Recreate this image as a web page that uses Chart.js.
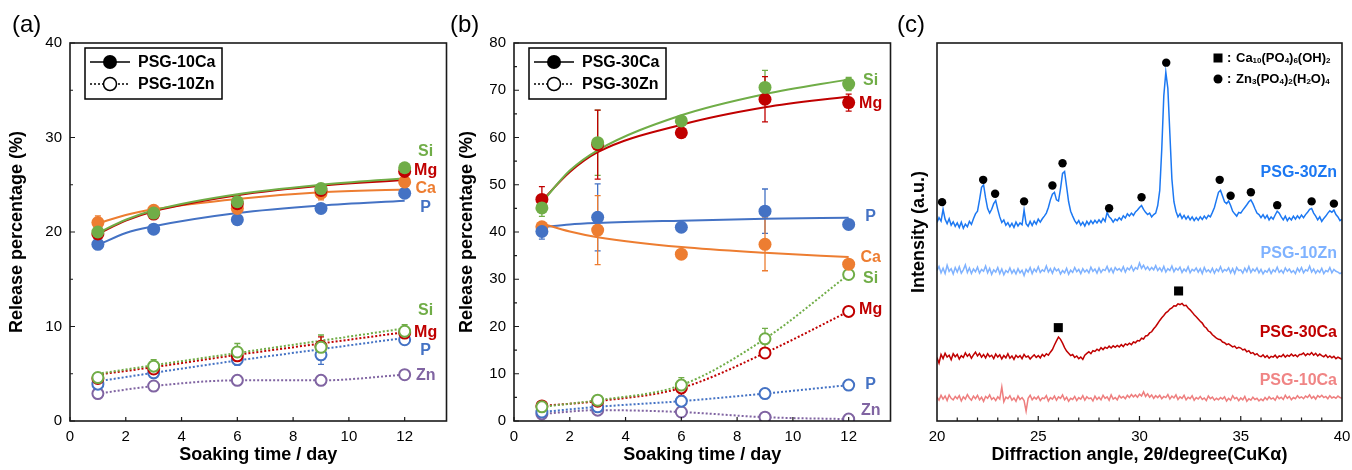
<!DOCTYPE html>
<html>
<head>
<meta charset="utf-8">
<script src="https://cdn.jsdelivr.net/npm/chart.js@4.4.0/dist/chart.umd.min.js"></script>
<style>
  body { margin: 0; background: #fff; width: 1352px; height: 470px; overflow: hidden; position: relative; }
  canvas { position: absolute; top: 0; }
</style>
</head>
<body>
<canvas id="grafA" width="454" height="470" style="left:0"></canvas>
<canvas id="grafB" width="448" height="470" style="left:450px"></canvas>
<canvas id="grafC" width="462" height="470" style="left:890px"></canvas>
<script>
const fuente = "'Liberation Sans', Arial, sans-serif";
Chart.defaults.font.family = fuente;
Chart.defaults.color = '#000';
Chart.defaults.animation = false;

const cSi = '#70AD47', cMg = '#C00000', cCa = '#ED7D31', cP = '#4472C4', cZn = '#8064A2';

// dias de inmersion
const dias = [1, 3, 6, 9, 12];
const diasAjuste = [1, 2, 3, 6, 9, 12];
const ticksDias = [0, 2, 4, 6, 8, 10, 12];

// (a) PSG-10Ca  (puntos llenos + curva de ajuste)
const si10Ca = [20.0, 22.0, 23.2, 24.6, 26.8];
const mg10Ca = [19.8, 21.9, 23.0, 24.4, 26.4];
const ca10Ca = [21.0, 22.3, 22.5, 24.1, 25.3];
const p10Ca  = [18.7, 20.3, 21.3, 22.5, 24.1];
const errSi10Ca = [0.3, 0.4, 0.6, 0.5, 0.4];
const errMg10Ca = [0.3, 0.4, 0.5, 0.5, 0.4];
const errCa10Ca = [0.7, 0.3, 0.5, 0.7, 0.4];
const errP10Ca  = [0.3, 0.3, 0.4, 0.3, 0.3];
const siAj10Ca = [19.9, 21.3, 22.3, 24.0, 25.0, 25.7];
const mgAj10Ca = [19.8, 21.2, 22.2, 23.9, 24.9, 25.5];
const caAj10Ca = [20.9, 21.8, 22.4, 23.5, 24.2, 24.5];
const pAj10Ca  = [18.6, 19.9, 20.6, 22.0, 22.8, 23.3];

// (a) PSG-10Zn (puntos vacios + linea punteada)
const si10Zn = [4.6, 5.8, 7.3, 7.8, 9.5];
const mg10Zn = [4.5, 5.5, 6.9, 7.9, 9.3];
const p10Zn  = [3.9, 5.1, 6.5, 7.0, 8.6];
const zn10Zn = [2.9, 3.7, 4.3, 4.3, 4.9];
const errSi10Zn = [0.4, 0.7, 0.9, 1.3, 0.7];
const errMg10Zn = [0.3, 0.5, 0.6, 1.0, 0.5];
const errP10Zn  = [0.3, 0.4, 0.6, 1.0, 0.4];
const errZn10Zn = [0.2, 0.3, 0.2, 0.2, 0.2];
const siAj10Zn = [5.0, 5.9, 7.2, 8.5, 9.8];
const mgAj10Zn = [4.9, 5.7, 7.0, 8.2, 9.4];
const pAj10Zn  = [4.2, 5.1, 6.4, 7.6, 8.8];

// (b) PSG-30Ca
const si30Ca = [45.1, 58.9, 63.5, 70.6, 71.3];
const mg30Ca = [46.9, 58.5, 61.0, 68.1, 67.4];
const ca30Ca = [41.1, 40.4, 35.3, 37.4, 33.2];
const p30Ca  = [40.1, 43.1, 41.0, 44.4, 41.6];
const errSi30Ca = [1.8, 6.9, 0.8, 3.6, 1.4];
const errMg30Ca = [2.7, 7.3, 0.6, 4.8, 1.8];
const errCa30Ca = [0.8, 7.3, 0.5, 5.6, 0.6];
const errP30Ca  = [1.6, 7.1, 0.5, 4.7, 0.8];
const siAj30Ca = [46.3, 53.0, 57.3, 64.7, 69.2, 72.3];
const mgAj30Ca = [46.6, 52.7, 56.9, 62.7, 66.4, 68.7];
const caAj30Ca = [41.8, 40.1, 38.9, 36.8, 35.6, 34.7];
const pAj30Ca  = [41.0, 41.6, 41.9, 42.4, 42.8, 43.0];

// (b) PSG-30Zn
const si30Zn = [3.0, 4.4, 7.6, 17.4, 31.0];
const mg30Zn = [3.2, 4.2, 7.0, 14.4, 23.2];
const p30Zn  = [1.9, 3.0, 4.2, 5.8, 7.6];
const zn30Zn = [1.5, 2.3, 1.9, 0.8, 0.4];
const errSi30Zn = [0.5, 0.4, 1.6, 2.2, 0.5];
const errMg30Zn = [0.4, 0.3, 1.6, 0.8, 0.4];
const errP30Zn  = [0.3, 0.3, 0.4, 0.3, 0.3];
const errZn30Zn = [0.2, 0.2, 0.2, 0.2, 0.2];

// (c) XRD, 20-40 grados cada 0.1
const xrdAngulo = Array.from({ length: 201 }, (_, i) => +(20 + i * 0.1).toFixed(1));
const xrd30Zn = [
  52.5,53.8,52.9,56.0,53.4,52.2,53.5,51.8,52.7,51.5,
  52.4,51.2,52.6,51.0,52.1,51.4,52.8,52.0,53.5,54.8,
  55.5,58.5,61.8,62.5,59.0,56.2,55.0,56.0,57.5,58.3,
  56.0,54.0,52.5,53.2,51.8,52.5,51.4,52.3,51.2,52.6,
  51.6,52.4,51.9,55.8,52.2,51.5,52.8,51.7,52.9,52.1,
  53.4,52.6,53.5,54.2,55.0,56.5,58.5,60.0,60.5,58.5,
  58.2,61.5,65.5,66.0,62.0,58.0,55.5,54.2,53.0,52.2,
  53.0,51.8,52.6,51.6,52.8,52.0,53.0,52.2,53.1,52.4,
  53.2,52.5,53.6,52.8,55.2,54.0,53.5,52.6,53.4,53.0,
  53.8,53.2,54.3,53.7,54.8,54.2,55.0,54.4,55.3,55.8,
  56.5,57.0,56.0,55.2,54.6,55.0,54.0,54.6,55.0,57.0,
  61.0,72.0,86.0,92.3,88.0,76.0,64.0,58.0,55.5,54.0,
  54.8,53.6,54.4,53.4,54.2,53.2,54.0,53.0,53.8,53.1,
  54.0,53.3,54.2,53.5,54.4,54.0,55.2,56.5,58.5,60.5,
  61.0,59.5,58.0,57.5,58.2,57.0,55.5,54.8,54.2,55.2,
  55.0,55.8,56.5,57.2,58.0,58.5,57.5,56.2,55.0,54.6,
  53.8,54.6,53.6,54.4,53.2,54.0,53.4,54.5,55.5,55.0,
  54.0,53.2,54.2,53.0,53.8,53.2,54.2,53.4,54.3,53.6,
  54.5,53.8,54.6,55.2,56.0,56.2,55.0,54.2,53.2,54.0,
  52.8,53.6,54.2,55.0,55.6,55.2,55.8,54.6,54.0,53.0,
  53.4
];
const xrd10Zn = [
  39.8,40.9,39.2,40.4,39.0,41.2,39.6,40.3,38.9,40.6,
  39.4,40.8,39.1,40.0,41.3,39.3,40.5,39.0,40.2,39.5,
  40.7,39.1,40.1,39.6,41.0,39.2,40.4,38.8,40.0,39.4,
  40.6,39.0,40.2,38.7,39.8,39.3,40.5,39.1,40.0,38.9,
  40.3,39.2,39.9,38.5,40.1,39.4,40.6,39.0,40.2,39.5,
  40.8,39.3,40.0,39.6,41.0,39.4,40.3,39.1,40.5,39.7,
  40.2,38.9,39.8,39.2,40.4,38.8,39.9,39.3,40.6,39.5,
  40.1,39.0,40.3,39.4,40.0,39.2,40.7,39.6,40.2,39.1,
  40.5,39.3,40.1,39.8,40.9,39.5,40.4,39.2,40.6,39.9,
  40.3,39.6,40.8,39.4,40.5,40.0,41.0,39.7,40.6,40.2,
  41.8,40.4,41.2,40.1,40.8,39.9,40.6,40.0,41.1,39.8,
  40.5,39.6,40.9,39.4,40.3,39.8,41.0,39.5,40.4,39.9,
  40.7,39.3,40.2,39.6,40.8,39.2,40.1,39.7,40.5,39.4,
  40.3,39.0,40.6,39.5,40.0,39.3,40.4,39.1,40.2,39.6,
  40.8,39.4,40.1,39.7,40.5,39.2,40.3,39.0,40.6,39.8,
  40.0,39.1,40.4,39.5,40.9,39.3,40.2,39.6,40.5,39.2,
  40.1,38.9,39.8,39.4,40.3,39.0,40.0,39.5,40.7,39.3,
  39.9,39.1,40.5,39.6,40.2,39.3,39.8,39.0,40.4,39.5,
  40.6,39.2,40.0,39.7,41.0,39.4,40.2,39.1,39.9,39.3,
  40.4,39.0,39.8,39.5,40.6,39.2,40.1,39.6,39.4,39.0,
  39.3
];
const xrd30Ca = [
  16.8,15.3,17.6,16.5,17.9,16.9,17.4,16.2,17.8,17.0,
  17.6,16.4,17.3,16.8,18.0,17.1,17.7,16.6,17.5,18.2,
  17.2,17.9,16.9,17.6,16.7,17.8,17.0,17.4,16.5,17.7,
  16.9,17.5,16.4,17.3,16.7,17.8,16.6,17.2,16.3,17.4,
  16.8,17.3,16.5,17.6,16.9,17.2,16.4,17.0,17.5,16.8,
  17.3,16.7,17.6,17.1,17.8,17.4,18.2,18.9,20.1,21.2,
  22.2,21.6,20.6,19.4,18.5,17.9,17.3,17.6,16.8,17.2,
  16.5,16.9,16.3,17.4,17.9,18.3,17.8,18.6,18.4,19.0,
  18.6,19.4,18.9,19.5,19.2,19.8,19.3,19.9,19.5,20.0,
  19.6,20.2,19.7,20.4,20.1,20.6,20.2,20.9,20.7,21.3,
  21.2,21.9,21.7,22.5,22.6,23.3,23.6,24.4,25.0,25.8,
  26.6,27.3,27.9,28.6,29.0,29.6,29.9,30.5,30.4,31.0,
  30.8,31.1,30.5,30.6,29.9,29.4,28.8,28.1,27.6,27.0,
  26.4,25.9,25.0,24.6,23.8,23.5,22.8,22.4,21.9,21.6,
  21.5,20.9,20.7,20.2,20.4,20.0,19.6,19.8,19.2,19.5,
  19.3,18.8,19.0,18.3,18.6,17.9,18.1,17.5,17.8,17.2,
  17.0,17.5,16.8,17.3,16.6,17.1,16.9,17.4,16.7,17.2,
  17.0,17.6,16.9,17.4,17.1,17.7,17.2,17.5,17.0,17.6,
  17.6,18.0,17.3,17.8,17.5,18.1,17.4,17.9,17.2,17.7,
  17.3,17.0,17.5,16.8,17.2,16.7,17.1,16.5,16.9,16.6,
  16.3
];
const xrd10Ca = [
  6.3,5.5,6.8,5.8,6.6,5.4,6.9,6.0,5.6,6.5,
  5.9,6.7,5.3,6.4,5.8,7.0,6.1,5.5,6.6,5.9,
  6.8,5.6,6.3,5.2,6.5,6.0,6.9,5.7,6.2,5.4,
  6.4,5.8,9.0,5.1,6.3,5.9,6.7,5.5,6.1,5.2,
  6.6,5.7,6.2,5.4,2.6,6.0,6.8,5.6,6.3,5.8,
  6.5,5.4,6.1,5.9,6.7,5.3,6.2,5.8,6.6,5.5,
  6.4,6.0,6.9,5.6,6.3,5.2,6.0,5.7,6.5,5.4,
  6.2,5.8,6.7,5.5,6.4,5.9,6.1,5.3,6.6,5.7,
  6.3,5.6,6.8,6.0,6.4,5.5,6.9,5.8,6.2,5.6,
  6.7,6.1,6.5,5.9,6.8,6.2,7.0,6.4,6.9,6.3,
  7.1,6.6,7.7,6.5,7.2,6.3,6.9,6.0,6.7,6.2,
  6.8,5.9,6.5,6.2,7.0,5.8,6.6,6.1,6.9,5.7,
  6.4,6.0,6.8,5.6,6.3,5.9,6.7,5.5,6.2,5.8,
  6.5,5.7,6.1,5.4,6.6,5.9,6.3,5.5,6.0,5.6,
  6.2,5.8,6.4,5.3,6.0,5.5,6.7,5.9,6.2,5.4,
  6.1,5.6,6.5,5.2,5.9,5.5,6.3,5.7,6.0,5.3,
  5.8,5.4,6.2,5.6,6.4,5.8,6.1,5.5,6.6,5.9,
  6.3,5.7,6.8,6.0,6.5,5.6,6.2,5.9,6.7,6.1,
  6.4,5.9,6.6,6.2,6.9,6.0,6.5,5.8,6.7,6.3,
  6.8,6.2,6.5,5.9,6.7,6.1,6.4,6.0,6.6,6.2,
  6.0
];
// marcas de picos
const picoZnX = [20.25, 22.28, 22.87, 24.3, 25.7, 26.2, 28.5, 30.1, 31.32, 33.96, 34.5, 35.5, 36.8, 38.5, 39.6];
const picoZnY = [57.9, 63.8, 60.1, 58.1, 62.3, 68.2, 56.3, 59.2, 94.8, 63.8, 59.6, 60.5, 57.1, 58.1, 57.5];
const picoHapX = [25.99, 31.93];
const picoHapY = [24.7, 34.4];
const ticksAngulo = [20, 25, 30, 35, 40];

function pts(xs, ys) { return xs.map((x, i) => ({ x: x, y: ys[i] })); }

function marcas(ys, err, color, vacio) {
  return {
    data: pts(dias, ys), err: err, showLine: false, borderColor: color,
    pointRadius: vacio ? 5.5 : 6.5, pointHoverRadius: 0,
    pointBackgroundColor: vacio ? '#fff' : color,
    pointBorderColor: color, pointBorderWidth: vacio ? 2 : 0
  };
}
function curva(xs, ys, color, punteada) {
  return {
    data: pts(xs, ys), borderColor: color, borderWidth: 2,
    borderDash: punteada ? [2, 2] : [], pointRadius: 0,
    cubicInterpolationMode: 'monotone', fill: false
  };
}

// ejes sin relleno extra a los lados
function ajusteX(s) { s.height = 49; s.paddingLeft = 0; s.paddingRight = 0; }
function ajusteY(ancho) {
  return s => { s.width = ancho; s.paddingLeft = 0; s.paddingRight = 0; s.paddingTop = 0; s.paddingBottom = 0; };
}

const barrasError = {
  id: 'barrasError',
  beforeDatasetsDraw(chart) {
    const ctx = chart.ctx, ys = chart.scales.y;
    chart.data.datasets.forEach((ds, i) => {
      if (!ds.err) return;
      const meta = chart.getDatasetMeta(i);
      ctx.save();
      ctx.strokeStyle = ds.borderColor;
      ctx.lineWidth = 1.3;
      ctx.beginPath();
      meta.data.forEach((p, j) => {
        const e = ds.err[j];
        if (!e) return;
        const v = ds.data[j].y;
        const y1 = ys.getPixelForValue(v + e), y2 = ys.getPixelForValue(v - e);
        ctx.moveTo(p.x, y1); ctx.lineTo(p.x, y2);
        ctx.moveTo(p.x - 3, y1); ctx.lineTo(p.x + 3, y1);
        ctx.moveTo(p.x - 3, y2); ctx.lineTo(p.x + 3, y2);
      });
      ctx.stroke();
      ctx.restore();
    });
  }
};

const deco = {
  id: 'deco',
  afterDraw(chart, args, o) {
    const { ctx, chartArea: ca, scales: { x, y } } = chart;
    ctx.save();
    ctx.strokeStyle = '#1a1a1a';
    ctx.lineWidth = 1.6;
    ctx.strokeRect(ca.left, ca.top, ca.right - ca.left, ca.bottom - ca.top);
    ctx.lineWidth = 1.2;
    ctx.beginPath();
    o.xMarcas.forEach(v => { const px = x.getPixelForValue(v); ctx.moveTo(px, ca.bottom); ctx.lineTo(px, ca.bottom - 4); });
    o.yMarcas.forEach(v => { const py = y.getPixelForValue(v); ctx.moveTo(ca.left, py); ctx.lineTo(ca.left + 5, py); });
    o.yMenores.forEach(v => { const py = y.getPixelForValue(v); ctx.moveTo(ca.left, py); ctx.lineTo(ca.left + 3, py); });
    ctx.stroke();

    ctx.fillStyle = '#000';
    ctx.font = '24px ' + fuente;
    ctx.textBaseline = 'middle';
    ctx.textAlign = 'left';
    ctx.fillText(o.letra, o.letraX, 25);

    // nombres de los elementos
    ctx.font = 'bold 16px ' + fuente;
    ctx.textAlign = 'center';
    const x12 = x.getPixelForValue(12) + o.etiqDx;
    o.etiquetas.forEach(([t, v, col]) => { ctx.fillStyle = col; ctx.fillText(t, x12, y.getPixelForValue(v)); });

    // leyenda con marco
    const bx = ca.left + 15, by = ca.top + 5;
    ctx.strokeStyle = '#000';
    ctx.lineWidth = 1.5;
    ctx.strokeRect(bx, by, 137, 51);
    const filas = [by + 14, by + 36];
    ctx.beginPath(); ctx.moveTo(bx + 5, filas[0]); ctx.lineTo(bx + 45, filas[0]); ctx.stroke();
    ctx.beginPath(); ctx.arc(bx + 25, filas[0], 7, 0, Math.PI * 2); ctx.fillStyle = '#000'; ctx.fill();
    ctx.setLineDash([2, 2]);
    ctx.beginPath(); ctx.moveTo(bx + 5, filas[1]); ctx.lineTo(bx + 45, filas[1]); ctx.stroke();
    ctx.setLineDash([]);
    ctx.beginPath(); ctx.arc(bx + 25, filas[1], 6.5, 0, Math.PI * 2); ctx.fillStyle = '#fff'; ctx.fill(); ctx.stroke();
    ctx.fillStyle = '#000';
    ctx.textAlign = 'left';
    ctx.fillText(o.leyenda[0], bx + 53, filas[0] + 1);
    ctx.fillText(o.leyenda[1], bx + 53, filas[1] + 1);
    ctx.restore();
  }
};

function opciones(ymax, yMarcas, extra) {
  return {
    responsive: false,
    layout: { padding: { left: 0, right: 0, top: 43, bottom: 0 } },
    plugins: { legend: { display: false }, tooltip: { enabled: false }, deco: extra },
    scales: {
      x: {
        type: 'linear', min: 0, max: 13.5,
        afterBuildTicks: s => { s.ticks = ticksDias.map(v => ({ value: v })); },
        afterFit: ajusteX,
        grid: { display: false, drawTicks: false },
        border: { display: false },
        ticks: { font: { size: 15 }, padding: 7, maxRotation: 0 },
        title: { display: true, text: 'Soaking time / day', font: { size: 18, weight: 'bold' }, padding: { top: 0, bottom: 4 } }
      },
      y: {
        type: 'linear', min: 0, max: ymax,
        afterBuildTicks: s => { s.ticks = yMarcas.map(v => ({ value: v })); },
        afterFit: ajusteY(extra.anchoY),
        grid: { display: false, drawTicks: false },
        border: { display: false },
        ticks: { font: { size: 15 }, padding: 8 },
        title: { display: true, text: 'Release percentage (%)', font: { size: 18, weight: 'bold' }, padding: { top: 6, bottom: 0 } }
      }
    }
  };
}

const yA = [0, 10, 20, 30, 40];
new Chart(document.getElementById('grafA'), {
  type: 'line',
  data: {
    datasets: [
      marcas(si10Ca, errSi10Ca, cSi), marcas(mg10Ca, errMg10Ca, cMg),
      marcas(ca10Ca, errCa10Ca, cCa), marcas(p10Ca, errP10Ca, cP),
      marcas(si10Zn, errSi10Zn, cSi, true), marcas(mg10Zn, errMg10Zn, cMg, true),
      marcas(p10Zn, errP10Zn, cP, true), marcas(zn10Zn, errZn10Zn, cZn, true),
      curva(diasAjuste, siAj10Ca, cSi), curva(diasAjuste, mgAj10Ca, cMg),
      curva(diasAjuste, caAj10Ca, cCa), curva(diasAjuste, pAj10Ca, cP),
      curva(dias, siAj10Zn, cSi, true), curva(dias, mgAj10Zn, cMg, true),
      curva(dias, pAj10Zn, cP, true), curva(dias, zn10Zn, cZn, true)
    ]
  },
  options: opciones(40, yA, {
    anchoY: 70, letra: '(a)', letraX: 12, etiqDx: 21,
    xMarcas: ticksDias, yMarcas: yA, yMenores: [5, 15, 25, 35],
    leyenda: ['PSG-10Ca', 'PSG-10Zn'],
    etiquetas: [['Si', 28.5, cSi], ['Mg', 26.5, cMg], ['Ca', 24.6, cCa], ['P', 22.6, cP],
                ['Si', 11.7, cSi], ['Mg', 9.4, cMg], ['P', 7.4, cP], ['Zn', 4.8, cZn]]
  }),
  plugins: [barrasError, deco]
});

const yB = [0, 10, 20, 30, 40, 50, 60, 70, 80];
new Chart(document.getElementById('grafB'), {
  type: 'line',
  data: {
    datasets: [
      marcas(si30Ca, errSi30Ca, cSi), marcas(mg30Ca, errMg30Ca, cMg),
      marcas(p30Ca, errP30Ca, cP), marcas(ca30Ca, errCa30Ca, cCa),
      marcas(si30Zn, errSi30Zn, cSi, true), marcas(mg30Zn, errMg30Zn, cMg, true),
      marcas(p30Zn, errP30Zn, cP, true), marcas(zn30Zn, errZn30Zn, cZn, true),
      curva(diasAjuste, siAj30Ca, cSi), curva(diasAjuste, mgAj30Ca, cMg),
      curva(diasAjuste, caAj30Ca, cCa), curva(diasAjuste, pAj30Ca, cP),
      curva(dias, si30Zn, cSi, true), curva(dias, mg30Zn, cMg, true),
      curva(dias, p30Zn, cP, true), curva(dias, zn30Zn, cZn, true)
    ]
  },
  options: opciones(80, yB, {
    anchoY: 64, letra: '(b)', letraX: 0, etiqDx: 22,
    xMarcas: ticksDias, yMarcas: yB, yMenores: [5, 15, 25, 35, 45, 55, 65, 75],
    leyenda: ['PSG-30Ca', 'PSG-30Zn'],
    etiquetas: [['Si', 72.0, cSi], ['Mg', 67.1, cMg], ['P', 43.2, cP], ['Ca', 34.5, cCa],
                ['Si', 30.1, cSi], ['Mg', 23.5, cMg], ['P', 7.8, cP], ['Zn', 2.1, cZn]]
  }),
  plugins: [barrasError, deco]
});

// (c) difraccion
const nombresXRD = [['PSG-30Zn', 65.6, '#1C78F2'], ['PSG-10Zn', 44.4, '#7FB2FF'], ['PSG-30Ca', 23.3, '#C00000'], ['PSG-10Ca', 10.8, '#F08585']];

function formula(ctx, texto, x, y) {
  texto.match(/\d+|\D+/g).forEach(t => {
    const sub = /\d/.test(t);
    ctx.font = (sub ? 'bold 8px ' : 'bold 13px ') + fuente;
    ctx.fillText(t, x, sub ? y + 3 : y);
    x += ctx.measureText(t).width;
  });
}

const decoXRD = {
  id: 'decoXRD',
  afterDraw(chart) {
    const { ctx, chartArea: ca, scales: { x, y } } = chart;
    ctx.save();
    ctx.strokeStyle = '#1a1a1a';
    ctx.lineWidth = 1.6;
    ctx.strokeRect(ca.left, ca.top, ca.right - ca.left, ca.bottom - ca.top);
    ctx.lineWidth = 1.2;
    ctx.beginPath();
    for (let v = 21; v < 40; v++) {
      const px = x.getPixelForValue(v);
      ctx.moveTo(px, ca.bottom); ctx.lineTo(px, ca.bottom - (v % 5 === 0 ? 5 : 3.5));
    }
    ctx.stroke();

    ctx.fillStyle = '#000';
    ctx.font = '24px ' + fuente;
    ctx.textBaseline = 'middle';
    ctx.textAlign = 'left';
    ctx.fillText('(c)', 7, 25);

    ctx.font = 'bold 16px ' + fuente;
    ctx.textAlign = 'right';
    nombresXRD.forEach(([t, v, c]) => { ctx.fillStyle = c; ctx.fillText(t, ca.right - 5, y.getPixelForValue(v)); });

    // leyenda de fases
    const lx = ca.left + 281, f1 = ca.top + 15, f2 = ca.top + 36;
    ctx.fillStyle = '#000';
    ctx.fillRect(lx - 4.5, f1 - 4.5, 9, 9);
    ctx.beginPath(); ctx.arc(lx, f2, 4.5, 0, Math.PI * 2); ctx.fill();
    ctx.textAlign = 'left';
    ctx.font = 'bold 13px ' + fuente;
    ctx.fillText(':', lx + 9, f1);
    ctx.fillText(':', lx + 9, f2);
    formula(ctx, 'Ca10(PO4)6(OH)2', lx + 18, f1);
    formula(ctx, 'Zn3(PO4)2(H2O)4', lx + 18, f2);
    ctx.restore();
  }
};

function patron(ys, color) {
  return { data: pts(xrdAngulo, ys), borderColor: color, borderWidth: 1.5, pointRadius: 0, tension: 0, fill: false };
}

new Chart(document.getElementById('grafC'), {
  type: 'line',
  data: {
    datasets: [
      { data: pts(picoZnX, picoZnY), showLine: false, pointStyle: 'circle', pointRadius: 4.2, pointBackgroundColor: '#000', pointBorderWidth: 0 },
      { data: pts(picoHapX, picoHapY), showLine: false, pointStyle: 'rect', pointRadius: 6.4, pointBackgroundColor: '#000', pointBorderWidth: 0 },
      patron(xrd30Zn, '#1C78F2'),
      patron(xrd10Zn, '#7FB2FF'),
      patron(xrd30Ca, '#C00000'),
      patron(xrd10Ca, '#EE7E7E')
    ]
  },
  options: {
    responsive: false,
    layout: { padding: { left: 0, right: 10, top: 43, bottom: 0 } },
    plugins: { legend: { display: false }, tooltip: { enabled: false } },
    scales: {
      x: {
        type: 'linear', min: 20, max: 40,
        afterBuildTicks: s => { s.ticks = ticksAngulo.map(v => ({ value: v })); },
        afterFit: ajusteX,
        grid: { display: false, drawTicks: false },
        border: { display: false },
        ticks: { font: { size: 15 }, padding: 7, maxRotation: 0 },
        title: { display: true, text: 'Diffraction angle, 2θ/degree(CuKα)', font: { size: 18, weight: 'bold' }, padding: { top: 0, bottom: 4 } }
      },
      y: {
        type: 'linear', min: 0, max: 100,
        afterFit: ajusteY(47),
        grid: { display: false, drawTicks: false },
        border: { display: false },
        ticks: { display: false },
        title: { display: true, text: 'Intensity (a.u.)', font: { size: 18, weight: 'bold' }, padding: { top: 18, bottom: 0 } }
      }
    }
  },
  plugins: [decoXRD]
});
</script>
</body>
</html>
